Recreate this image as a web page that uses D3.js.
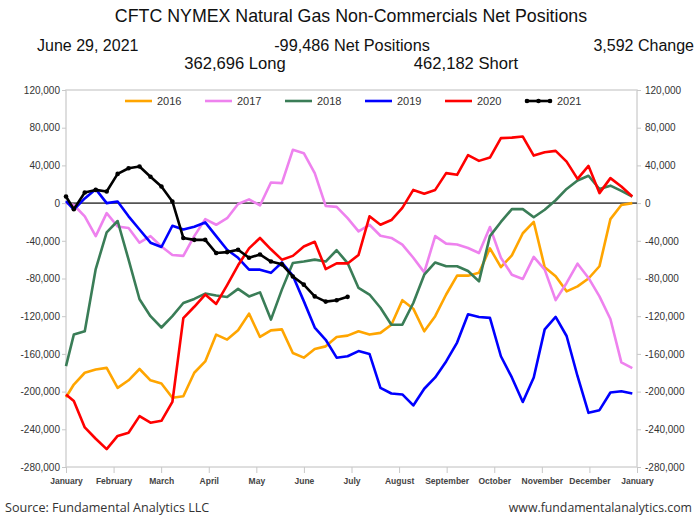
<!DOCTYPE html>
<html><head><meta charset="utf-8">
<script src="https://cdn.jsdelivr.net/npm/d3@7"></script>
<style>body{margin:0;background:#fff} svg{display:block}</style>
</head><body><svg id="c" width="695" height="518"></svg>
<script>
// ---- data (thousands of contracts) ----
const years = ["2016", "2017", "2018", "2019", "2020", "2021"];
const s2016 = [-206, -192.5, -180, -176.6, -174.8, -196, -188, -176, -188, -191.4, -206.6, -205, -180, -168, -139.5, -144.8, -135, -117.3, -142, -135, -134, -159, -164, -154.7, -152, -142, -140.6, -136, -139.5, -137.7, -129, -103, -112, -136, -120, -97, -77, -77, -74, -48, -68, -55.5, -32, -20, -68, -77.5, -93.6, -88.3, -80, -67, -17, -2, 0];
const s2017 = [0, -2, -14, -35, -10.6, -24.8, -26.5, -42, -35, -46, -55, -56, -35, -17, -23, -16, -1, 4, -2.5, 21.8, 21.2, 56.5, 53, 31.8, -3, -4, -16, -30, -23, -34.6, -37, -44, -58, -73.5, -35, -43, -44, -47.7, -53, -25.4, -58, -76, -80.5, -57, -70.6, -103, -84.7, -64.3, -79.4, -99, -123, -169, -175];
const s2018 = [-173, -139.5, -136, -70, -31, -19, -60, -102, -120, -132, -120, -106, -101.7, -96, -98, -99.6, -91, -99, -94.7, -123.6, -91.8, -63.6, -62, -60, -62, -50, -63.6, -90, -97, -111, -129, -129, -106, -76, -63, -67, -67, -72, -83, -35, -20, -6.4, -6.4, -15, -7, 3, 15, 24, 29, 15, 18.5, 13, 7];
const s2019 = [2, -7, 5, 14.8, 0, 1.7, -14, -28, -42, -46.6, -24, -28, -25, -20.5, -35, -49.5, -58, -70.6, -70.6, -74, -63, -77, -104, -132, -145, -164, -162.5, -157, -160, -196, -202, -203, -214.7, -197, -185, -168, -148, -118, -120.8, -121.8, -162.5, -185, -211, -185, -134, -120.8, -141, -183.7, -222.5, -219.7, -201, -199.6, -202];
const s2020 = [-203, -210, -238, -250, -261, -247, -243.6, -226, -233, -231, -211, -122, -110, -97, -107, -87, -66, -48, -37, -49, -60, -56, -46, -41, -70, -64, -64, -55, -14, -23, -18, -5, 14, 10, 14, 31.8, 30, 51, 44.8, 48.3, 68.9, 69.5, 70.6, 50.4, 54, 55.4, 44, 25.7, 39.5, 10.6, 26.5, 17.6, 7];
const s2021 = [7, -6.4, 11.2, 14, 12.3, 31, 37, 38.8, 28, 17.6, 1.7, -37, -39, -39, -53, -52, -49.5, -58, -54.5, -62, -65, -77.8, -86.5, -99, -104.5, -103.1, -99.486];
const seriesValues = [s2016, s2017, s2018, s2019, s2020, s2021];
// report day-of-year for each weekly point (first point = carried-over year-end value on Jan 1)
const reportDays = d3.range(53).map(i => i === 0 ? 0 : 7 * i - 2);
const monthLabels = ["January", "February", "March", "April", "May", "June", "July", "August", "September", "October", "November", "December", "January"];
const yTickValues = d3.range(-280000, 120001, 40000);
const headerTitle = "CFTC NYMEX Natural Gas Non-Commercials Net Positions";
const headerDate = "June 29, 2021";
const headerNet = "-99,486 Net Positions";
const headerChange = "3,592 Change";
const headerLong = "362,696 Long";
const headerShort = "462,182 Short";

// ---- styles ----
const colors = {"2016": "#FFA500", "2017": "#EE82EE", "2018": "#3A7D57", "2019": "#0000FF", "2020": "#FF0000", "2021": "#000000"};
const svg = d3.select("#c");
const M = {left: 66, right: 637, top: 90, bottom: 467};

const x = d3.scaleLinear().domain([0, 365]).range([M.left, M.right]);
const xm = d3.scaleLinear().domain([0, 12]).range([M.left, M.right]);
const y = d3.scaleLinear().domain([-280000, 120000]).range([M.bottom, M.top]);
const fmt = d => d3.format(",")(d).replace("\u2212", "-");

// header texts
const hdr = svg.append("g").attr("font-family", "'Liberation Sans', Arial, sans-serif").attr("fill", "#111");
hdr.append("text").attr("x", 351).attr("y", 22).attr("text-anchor", "middle").attr("font-size", 17.8).text(headerTitle);
hdr.append("text").attr("x", 37).attr("y", 50.5).attr("font-size", 16).text(headerDate);
hdr.append("text").attr("x", 352).attr("y", 50.5).attr("text-anchor", "middle").attr("font-size", 16.3).text(headerNet);
hdr.append("text").attr("x", 694).attr("y", 50.5).attr("text-anchor", "end").attr("font-size", 16).text(headerChange);
hdr.append("text").attr("x", 235).attr("y", 69).attr("text-anchor", "middle").attr("font-size", 16.6).text(headerLong);
hdr.append("text").attr("x", 466).attr("y", 69).attr("text-anchor", "middle").attr("font-size", 16.6).text(headerShort);

// frame
svg.append("rect").attr("x", M.left).attr("y", M.top).attr("width", M.right - M.left).attr("height", M.bottom - M.top)
  .attr("fill", "none").attr("stroke", "#d4d4d4").attr("stroke-width", 1.5);

// axes
function styleAxis(g) {
  g.select(".domain").remove();
  g.selectAll(".tick line").attr("stroke", "#c8c8c8");
  g.selectAll(".tick text").attr("fill", "#333").attr("font-family", "'Liberation Sans', Arial, sans-serif");
}
svg.append("g").attr("transform", `translate(${M.left},0)`)
  .call(d3.axisLeft(y).tickValues(yTickValues).tickFormat(fmt).tickSize(4).tickPadding(2))
  .call(styleAxis).selectAll(".tick text").attr("font-size", 10);
svg.append("g").attr("transform", `translate(${M.right},0)`)
  .call(d3.axisRight(y).tickValues(yTickValues).tickFormat(fmt).tickSize(4).tickPadding(4))
  .call(styleAxis).selectAll(".tick text").attr("font-size", 10);
svg.append("g").attr("transform", `translate(0,${M.bottom})`)
  .call(d3.axisBottom(xm).tickValues(d3.range(13)).tickFormat(i => monthLabels[i]).tickSize(6).tickPadding(5))
  .call(styleAxis).selectAll(".tick text").attr("font-size", 8.5).attr("font-weight", "bold").attr("fill", "#444");

// zero line
svg.append("line").attr("x1", M.left).attr("x2", M.right).attr("y1", y(0)).attr("y2", y(0))
  .attr("stroke", "#555").attr("stroke-width", 1.6);

// series
const line = d3.line().x((d, i) => x(reportDays[i])).y(d => y(d * 1000));
const gS = svg.append("g");
years.forEach((yr, k) => {
  gS.append("path").datum(seriesValues[k]).attr("d", line).attr("fill", "none")
    .attr("stroke", colors[yr]).attr("stroke-width", 2.6).attr("stroke-linejoin", "round");
});
gS.selectAll("circle.pt").data(s2021).join("circle").attr("class", "pt")
  .attr("cx", (d, i) => x(reportDays[i])).attr("cy", d => y(d * 1000)).attr("r", 2.3).attr("fill", "#000");

// legend
const lg = svg.append("g").attr("font-family", "'Liberation Sans', Arial, sans-serif");
years.forEach((yr, k) => {
  const lx = 125 + k * 80, ly = 101;
  lg.append("line").attr("x1", lx).attr("x2", lx + 27).attr("y1", ly).attr("y2", ly)
    .attr("stroke", colors[yr]).attr("stroke-width", 2.6);
  if (yr === "2021") {
    [lx + 2, lx + 13.5, lx + 25].forEach(cx => lg.append("circle").attr("cx", cx).attr("cy", ly).attr("r", 2.3).attr("fill", "#000"));
  }
  lg.append("text").attr("x", lx + 32).attr("y", ly + 4).attr("font-size", 11).attr("fill", "#333").text(yr);
});

// footer
svg.append("text").attr("x", 5).attr("y", 512).attr("font-family", "'Open Sans', sans-serif").attr("font-size", 12.6)
  .attr("fill", "#333").text("Source: Fundamental Analytics LLC");
svg.append("text").attr("x", 692).attr("y", 512).attr("text-anchor", "end").attr("font-family", "'Open Sans', sans-serif")
  .attr("font-size", 12.3).attr("fill", "#333").text("www.fundamentalanalytics.com");
</script></body></html>
